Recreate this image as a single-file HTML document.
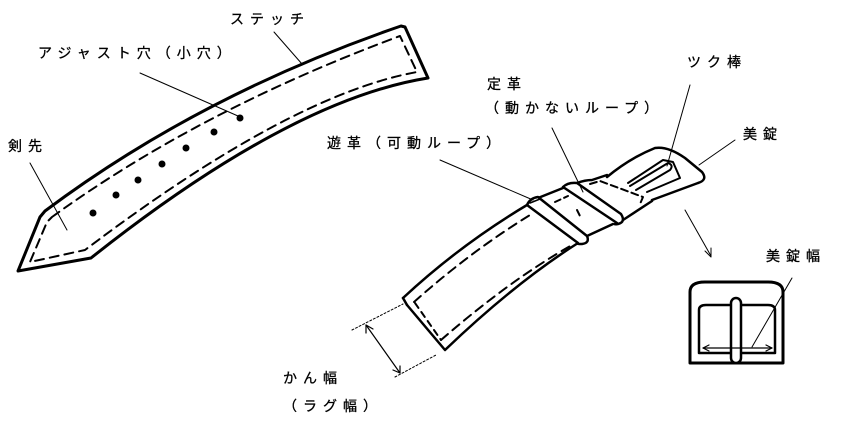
<!DOCTYPE html>
<html><head><meta charset="utf-8"><style>
html,body{margin:0;padding:0;background:#fff}
svg{display:block}
text{font-family:"Liberation Sans","Noto Sans CJK JP",sans-serif;font-size:14px;fill:#000;letter-spacing:6px;stroke:#000;stroke-width:0.3}
</style></head><body>
<svg width="849" height="429" viewBox="0 0 849 429" xmlns="http://www.w3.org/2000/svg">
<g fill="none" stroke="#000" stroke-linecap="round" stroke-linejoin="round">
<!-- left strap -->
<path d="M45,211 Q200,95 401,26 L405,27 L428,78 Q290,100 91,258 L18,271 L40,217 Z" stroke-width="3"/>
<path d="M52,217 Q200,110 400,36 L417,72 Q290,95 85,250 L30,262 L47,222 Z" stroke-width="2" stroke-dasharray="9,6"/>
<g fill="#000" stroke="none">
<circle cx="240" cy="118" r="3.5"/><circle cx="214" cy="132" r="3.5"/><circle cx="186" cy="148" r="3.5"/>
<circle cx="162" cy="164" r="3.5"/><circle cx="138" cy="180" r="3.5"/><circle cx="116" cy="195" r="3.5"/><circle cx="93" cy="213" r="3.5"/>
</g>
<line x1="274" y1="32" x2="302" y2="64" stroke-width="1"/>
<line x1="140" y1="73" x2="238" y2="116" stroke-width="1"/>
<line x1="30" y1="163" x2="67" y2="230" stroke-width="1"/>
<!-- buckle frame (behind) -->
<path d="M607,177 Q630,158 655,148 Q668,146 685,158 L702,172 Q708,180 698,183 L652,200" stroke-width="2.5"/>
<path d="M628,183 L663,160 L673,162 L680,178 L647,192" stroke-width="2"/>
<path d="M630,186 L668,163 Q674,165 670,170 L636,190" stroke-width="2"/>
<!-- strap -->
<path d="M403,298 Q460,245 527,205" stroke-width="2.5"/>
<path d="M407,305 L445,350 Q515,283 578,243" stroke-width="2.5"/>
<path d="M403,298 L407,305" stroke-width="2.5"/>
<path d="M414,302 Q470,252 530,215 M441,340 Q510,280 572,245" stroke-width="2" stroke-dasharray="9,6"/>
<path d="M415,303 L441,340" stroke-width="2" stroke-dasharray="6,5"/>
<!-- between loops -->
<path d="M538,198 L563,188" stroke-width="2.5"/>
<path d="M587,236 L613,224" stroke-width="2.5"/>
<path d="M555,202 L568,196 M577,210 L580,216" stroke-width="2" stroke-dasharray="6,4"/>
<!-- loop 1 -->
<path d="M527,205 Q530,198 538,197 L587,236 Q590,243 582,244 Q576,244 578,243 Z" fill="#fff" stroke-width="2.5"/>
<path d="M530,203 L540,199" stroke-width="1.5"/>
<!-- after loop2 strap -->
<path d="M577,183 Q585,180 592,180 L607,175" stroke-width="2.5"/>
<path d="M623,220 L652,201" stroke-width="2.5"/>
<path d="M590,184 L600,181 L643,197 L640,204" stroke-width="2" stroke-dasharray="7,4"/>
<!-- loop 2 -->
<path d="M563,187 Q568,182 577,183 L621,214 Q626,222 618,224 Q612,225 617,223 Z" fill="#fff" stroke-width="2.5"/>
<!-- pointer lines -->
<line x1="440" y1="160" x2="533" y2="200" stroke-width="1"/>
<line x1="552" y1="128" x2="583" y2="192" stroke-width="1"/>
<line x1="690" y1="85" x2="667" y2="166" stroke-width="1"/>
<line x1="735" y1="140" x2="699" y2="165" stroke-width="1"/>
<line x1="685" y1="210" x2="711" y2="256" stroke-width="1"/>
<path d="M705,251 L711,257 L711,248" stroke-width="1"/>
<!-- lug width -->
<line x1="352" y1="330" x2="403" y2="304" stroke-width="1" stroke-dasharray="2,2"/>
<line x1="395" y1="377" x2="436" y2="355" stroke-width="1" stroke-dasharray="2,2"/>
<line x1="366" y1="325" x2="400" y2="373" stroke-width="1.2"/>
<path d="M366,333 L366,325 L373,329 M393,370 L400,373 L400,366" stroke-width="1.2"/>
<!-- small buckle -->
<path d="M690,363 L690,292 Q690,282 705,282 L768,282 Q783,282 783,292 L783,363 Z" stroke-width="3"/>
<path d="M699,353 L699,310 Q699,305 706,305 L768,305 Q775,305 775,310 L775,353 Z" stroke-width="2.5"/>
<rect x="731" y="298" width="10" height="65" rx="5" fill="#fff" stroke-width="2.5"/>
<line x1="703" y1="348" x2="772" y2="348" stroke-width="1.2"/>
<path d="M709,345 L703,348 L709,351 M766,345 L772,348 L766,351" stroke-width="1.2"/>
<line x1="792" y1="278" x2="752" y2="347" stroke-width="1"/>
</g>
<text x="230" y="24">ステッチ</text>
<text x="38" y="58">アジャスト穴（小穴）</text>
<text x="8" y="151">剣先</text>
<text x="487" y="89">定革</text>
<text x="485" y="113">（動かないループ）</text>
<text x="327" y="148">遊革（可動ループ）</text>
<text x="687" y="67">ツク棒</text>
<text x="743" y="139">美錠</text>
<text x="766" y="261">美錠幅</text>
<text x="283" y="383">かん幅</text>
<text x="283" y="411">（ラグ幅）</text>
</svg>
</body></html>
